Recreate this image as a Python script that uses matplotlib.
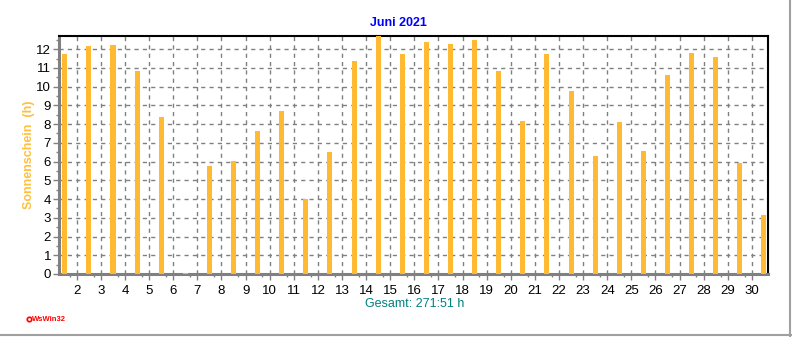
import matplotlib
matplotlib.use("Agg")
import matplotlib.pyplot as plt
from matplotlib.ticker import FixedLocator, MultipleLocator
from matplotlib.lines import Line2D

# Daily sunshine hours, June 2021
days = list(range(1, 31))
sunshine = [11.75, 12.18, 12.23, 10.84, 8.39, 0.05, 5.77, 6.02, 7.64, 8.71,
            4.00, 6.52, 11.38, 12.70, 11.75, 12.39, 12.29, 12.50, 10.84, 8.17,
            11.75, 9.78, 6.30, 8.12, 6.57, 10.63, 11.81, 11.59, 5.93, 3.15]
tick_labels = [str(d) for d in range(2, 31)]
title = "Juni 2021"
total_text = "Gesamt: 271:51 h"
ylabel = "Sonnenschein  (h)"

plt.rcParams['font.family'] = ['Liberation Sans', 'DejaVu Sans']

fig = plt.figure(figsize=(7.92, 3.37), dpi=100)
ax = fig.add_axes([0.0751, 0.187, 0.8949, 0.706])

ax.bar(days, sunshine, width=0.21, color="#FFB933", zorder=3)

ax.set_xlim(0.78, 30.18)
ax.set_ylim(0, 12.7)

# day boundaries carry the labels; bars sit between them
ax.xaxis.set_major_locator(FixedLocator([d + 0.5 for d in range(1, 30)]))
ax.set_xticklabels(tick_labels)
ax.xaxis.set_minor_locator(FixedLocator([d + 0.2 for d in range(1, 31)]))
ax.yaxis.set_major_locator(MultipleLocator(1))
ax.yaxis.set_minor_locator(MultipleLocator(0.5))

ax.grid(True, which="major", color="#808080", linestyle=(0, (3, 3)),
        linewidth=1, zorder=1)

ax.tick_params(axis="both", which="major", labelsize=9.5, color="#808080",
               length=4, width=1, direction="out", pad=2)
ax.tick_params(axis="both", which="minor", color="#808080", length=2,
               width=1, direction="out")
ax.tick_params(axis="x", which="major", pad=4)

for side in ("left", "bottom"):
    ax.spines[side].set_color("#808080")
    ax.spines[side].set_linewidth(2.2)
for side in ("top", "right"):
    ax.spines[side].set_color("black")
    ax.spines[side].set_linewidth(1.5)

ax.set_ylabel(ylabel, color="#FFC040", fontsize=9, fontweight="bold",
              labelpad=6)
ax.yaxis.set_label_coords(-0.035, 0.5)

fig.text(0.5025, 0.933, title, color="#0000FF", fontsize=9,
         fontweight="bold", ha="center", va="center")
fig.text(0.524, 0.099, total_text, color="#008080", fontsize=9,
         ha="center", va="center")

# program signature in the lower left corner
fig.text(0.041, 0.053, "WsWin32", color="#FF0000", fontsize=5.5,
         fontweight="bold", ha="left", va="center")
fig.add_artist(Line2D([0.0365], [0.053], marker="o", markersize=3.2,
                      markerfacecolor="white", markeredgecolor="#FF0000",
                      markeredgewidth=1.2, transform=fig.transFigure))

# grey frame on the right and bottom edges
fig.add_artist(Line2D([0.9975, 0.9975], [0.0, 1.0], color="#A0A0A0",
                      linewidth=1.5, transform=fig.transFigure))
fig.add_artist(Line2D([0.0, 1.0], [0.0045, 0.0045], color="#A0A0A0",
                      linewidth=1.5, transform=fig.transFigure))

fig.savefig("out.png", dpi=100)
